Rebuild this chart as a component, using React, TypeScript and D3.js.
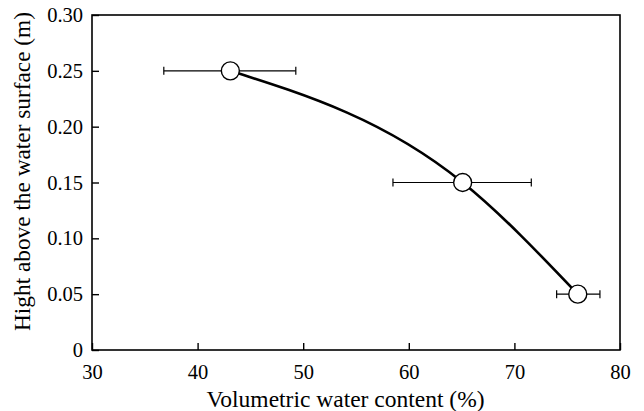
import React, { useRef, useEffect } from "react";
import * as d3 from "d3";

// measured points (volumetric water content %, height m) with horizontal error
const waterContent = [43.1, 65.1, 76.0];
const heights = [0.25, 0.15, 0.05];
const errLow = [36.8, 58.5, 74.0];
const errHigh = [49.3, 71.6, 78.1];

const xTicks = [30, 40, 50, 60, 70, 80];
const yTicks = [0, 0.05, 0.1, 0.15, 0.2, 0.25, 0.3];

const width = 644;
const height = 411;
const margin = { top: 15, right: 24, bottom: 61, left: 92 };
const font = "'Liberation Serif', 'Times New Roman', serif";

const App: React.FC = () => {
  const ref = useRef<SVGSVGElement>(null);

  useEffect(() => {
    const svg = d3.select(ref.current);
    svg.selectAll("*").remove();

    const innerWidth = width - margin.left - margin.right;
    const innerHeight = height - margin.top - margin.bottom;

    const xScale = d3.scaleLinear().domain([30, 80]).range([0, innerWidth]);
    const yScale = d3.scaleLinear().domain([0, 0.3]).range([innerHeight, 0]);

    const g = svg
      .append("g")
      .attr("transform", `translate(${margin.left}, ${margin.top})`);

    // frame
    g.append("rect")
      .attr("x", 0)
      .attr("y", 0)
      .attr("width", innerWidth)
      .attr("height", innerHeight)
      .attr("fill", "none")
      .attr("stroke", "black")
      .attr("stroke-width", 1.6);

    // axes, ticks pointing inward
    const xAxis = d3
      .axisBottom(xScale)
      .tickValues(xTicks)
      .tickSizeInner(-7)
      .tickSizeOuter(0)
      .tickPadding(14)
      .tickFormat(d3.format("d"));
    const yAxis = d3
      .axisLeft(yScale)
      .tickValues(yTicks)
      .tickSizeInner(-7)
      .tickSizeOuter(0)
      .tickPadding(9)
      .tickFormat((d) => (d === 0 ? "0" : d3.format(".2f")(d as number)));

    const xg = g
      .append("g")
      .attr("transform", `translate(0, ${innerHeight})`)
      .call(xAxis);
    const yg = g.append("g").call(yAxis);

    [xg, yg].forEach((a) => {
      a.attr("font-family", null).attr("font-size", null);
      a.select(".domain").remove();
      a.selectAll(".tick line").attr("stroke", "black").attr("stroke-width", 1.4);
      a.selectAll(".tick text")
        .style("font-family", font)
        .style("font-size", "20.5px")
        .attr("fill", "black");
    });

    const pts = waterContent.map((x, i) => ({
      x,
      y: heights[i],
      lo: errLow[i],
      hi: errHigh[i],
    }));

    // error bars
    const eb = g.append("g").attr("stroke", "black").attr("stroke-width", 1.2);
    pts.forEach((d) => {
      const cy = yScale(d.y);
      eb.append("line")
        .attr("x1", xScale(d.lo))
        .attr("x2", xScale(d.hi))
        .attr("y1", cy)
        .attr("y2", cy);
      [d.lo, d.hi].forEach((v) => {
        eb.append("line")
          .attr("x1", xScale(v))
          .attr("x2", xScale(v))
          .attr("y1", cy - 4)
          .attr("y2", cy + 4);
      });
    });

    // fitted curve
    const line = d3
      .line<{ x: number; y: number }>()
      .x((d) => xScale(d.x))
      .y((d) => yScale(d.y))
      .curve(d3.curveMonotoneX);
    g.append("path")
      .attr("d", line(pts) || "")
      .attr("fill", "none")
      .attr("stroke", "black")
      .attr("stroke-width", 2.6);

    // markers
    g.selectAll(".pt")
      .data(pts)
      .enter()
      .append("circle")
      .attr("class", "pt")
      .attr("cx", (d) => xScale(d.x))
      .attr("cy", (d) => yScale(d.y))
      .attr("r", 9)
      .attr("fill", "white")
      .attr("stroke", "black")
      .attr("stroke-width", 1.4);

    // axis titles
    svg
      .append("text")
      .attr("x", 345.5)
      .attr("y", 407)
      .attr("text-anchor", "middle")
      .style("font-family", font)
      .style("font-size", "23.5px")
      .text("Volumetric water content (%)");

    svg
      .append("text")
      .attr("transform", `translate(30, 171.5) rotate(-90)`)
      .attr("text-anchor", "middle")
      .style("font-family", font)
      .style("font-size", "23.3px")
      .text("Hight above the water surface (m)");
  }, []);

  return (
    <svg
      ref={ref}
      width={width}
      height={height}
      style={{ position: "absolute", left: 0, top: 0, background: "white" }}
    ></svg>
  );
};

export default App;
